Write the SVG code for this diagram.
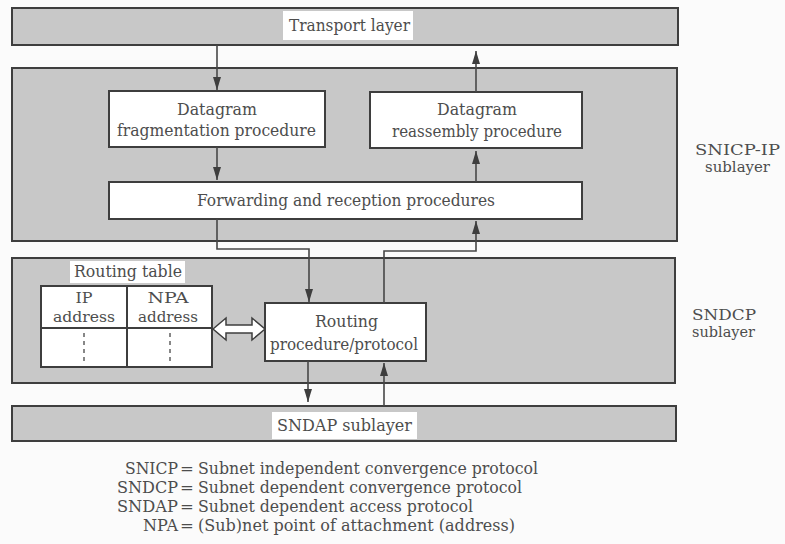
<svg xmlns="http://www.w3.org/2000/svg" width="785" height="544" viewBox="0 0 785 544">
  <style>
    .layer { fill: #c8c8c8; stroke: #3e3e3e; stroke-width: 2; }
    .box { fill: #ffffff; stroke: #3e3e3e; stroke-width: 2; }
    .lbl { fill: #ffffff; stroke: none; }
    text { font-family: 'DejaVu Serif', serif; font-size: 16px; fill: #4d4d4d; }
    .c { text-anchor: middle; }
    .e { text-anchor: end; }
    .sm { font-size: 14.5px; }
    .side { font-size: 15.5px; }
    .leg { font-size: 16.5px; }
    .wire { fill: none; stroke: #484848; stroke-width: 1.6; }
    .grid { fill: none; stroke: #3e3e3e; stroke-width: 2; }
    .dash { stroke: #555555; stroke-width: 1.4; stroke-dasharray: 4 4; }
  </style>
  <defs>
    <marker id="ah" viewBox="0 0 13 8" refX="13" refY="4" markerWidth="13" markerHeight="8" markerUnits="userSpaceOnUse" orient="auto">
      <path d="M0,0 L13,4 L0,8 z" fill="#3e3e3e"/>
    </marker>
  </defs>

  <rect x="0" y="0" width="785" height="544" fill="#fbfbfb"/>

  <!-- Transport layer band -->
  <g id="transport">
    <rect class="layer" x="12" y="8" width="666" height="37"/>
    <rect class="lbl" x="283" y="11" width="130" height="29"/>
    <text class="c" x="349.5" y="31" textLength="121" lengthAdjust="spacingAndGlyphs">Transport layer</text>
  </g>

  <!-- SNICP-IP sublayer -->
  <g id="snicp">
    <rect class="layer" x="12" y="68" width="665" height="173"/>
  </g>
  <g id="fragmentation">
    <rect class="box" x="109" y="91" width="216" height="56"/>
    <text class="c" x="217" y="115" textLength="80" lengthAdjust="spacingAndGlyphs">Datagram</text>
    <text class="c" x="216.5" y="136" textLength="199" lengthAdjust="spacingAndGlyphs">fragmentation procedure</text>
  </g>
  <g id="reassembly">
    <rect class="box" x="370" y="92" width="212" height="56"/>
    <text class="c" x="477" y="115" textLength="80" lengthAdjust="spacingAndGlyphs">Datagram</text>
    <text class="c" x="477" y="137" textLength="170" lengthAdjust="spacingAndGlyphs">reassembly procedure</text>
  </g>
  <g id="forwarding">
    <rect class="box" x="109" y="182" width="473" height="37"/>
    <text class="c" x="346" y="206" textLength="298" lengthAdjust="spacingAndGlyphs">Forwarding and reception procedures</text>
  </g>

  <!-- SNDCP sublayer -->
  <g id="sndcp">
    <rect class="layer" x="12" y="258" width="663" height="125"/>
  </g>
  <g id="routing-table">
    <rect class="lbl" x="70" y="261" width="115" height="22"/>
    <text x="74" y="277" textLength="108" lengthAdjust="spacingAndGlyphs">Routing table</text>
    <rect class="box" x="41" y="286" width="171" height="81"/>
    <line class="grid" x1="127" y1="286" x2="127" y2="367"/>
    <line class="grid" x1="41" y1="328" x2="212" y2="328"/>
    <text class="c sm" x="84" y="303" textLength="17" lengthAdjust="spacingAndGlyphs">IP</text>
    <text class="c sm" x="84" y="322" textLength="62" lengthAdjust="spacingAndGlyphs">address</text>
    <text class="c sm" x="168" y="303" textLength="41" lengthAdjust="spacingAndGlyphs">NPA</text>
    <text class="c sm" x="168" y="322" textLength="60" lengthAdjust="spacingAndGlyphs">address</text>
    <line class="dash" x1="84" y1="333" x2="84" y2="364"/>
    <line class="dash" x1="170" y1="333" x2="170" y2="364"/>
  </g>
  <g id="routing">
    <rect class="box" x="265" y="303" width="161" height="58"/>
    <text class="c" x="346.5" y="327" textLength="63" lengthAdjust="spacingAndGlyphs">Routing</text>
    <text class="c" x="344" y="350" textLength="148" lengthAdjust="spacingAndGlyphs">procedure/protocol</text>
  </g>

  <!-- SNDAP sublayer band -->
  <g id="sndap">
    <rect class="layer" x="12" y="406" width="664" height="35"/>
    <rect class="lbl" x="272" y="412" width="145" height="27"/>
    <text class="c" x="344.5" y="431" textLength="135" lengthAdjust="spacingAndGlyphs">SNDAP sublayer</text>
  </g>

  <!-- Side labels -->
  <g id="side-labels">
    <text class="c side" x="737.5" y="155" textLength="85" lengthAdjust="spacingAndGlyphs">SNICP-IP</text>
    <text class="c side" x="737.5" y="172" textLength="65" lengthAdjust="spacingAndGlyphs">sublayer</text>
    <text class="side" x="692" y="320" textLength="64" lengthAdjust="spacingAndGlyphs">SNDCP</text>
    <text class="side" x="692" y="337" textLength="63" lengthAdjust="spacingAndGlyphs">sublayer</text>
  </g>

  <!-- Connectors -->
  <g id="connectors">
    <line class="wire" x1="217" y1="45" x2="217" y2="90" marker-end="url(#ah)"/>
    <line class="wire" x1="217" y1="147" x2="217" y2="180" marker-end="url(#ah)"/>
    <line class="wire" x1="476" y1="92" x2="476" y2="51" marker-end="url(#ah)"/>
    <line class="wire" x1="476" y1="182" x2="476" y2="151" marker-end="url(#ah)"/>
    <polyline class="wire" points="217,219 217,249 309,249 309,302" marker-end="url(#ah)"/>
    <polyline class="wire" points="384,303 384,251 476,251 476,221" marker-end="url(#ah)"/>
    <line class="wire" x1="308" y1="361" x2="308" y2="402" marker-end="url(#ah)"/>
    <line class="wire" x1="384" y1="406" x2="384" y2="363" marker-end="url(#ah)"/>
    <polygon points="213,329 226,318 226,325 252,325 252,318 265,329 252,340 252,333 226,333 226,340" fill="#ffffff" stroke="#3e3e3e" stroke-width="1.5" stroke-linejoin="miter"/>
  </g>

  <!-- Legend -->
  <g id="legend" class="leg">
    <text class="e leg" x="178" y="474" textLength="53" lengthAdjust="spacingAndGlyphs">SNICP</text>
    <text class="leg" x="180" y="474">=</text>
    <text class="leg" x="198" y="474" textLength="340" lengthAdjust="spacingAndGlyphs">Subnet independent convergence protocol</text>
    <text class="e leg" x="178" y="493" textLength="61" lengthAdjust="spacingAndGlyphs">SNDCP</text>
    <text class="leg" x="180" y="493">=</text>
    <text class="leg" x="198" y="493" textLength="324" lengthAdjust="spacingAndGlyphs">Subnet dependent convergence protocol</text>
    <text class="e leg" x="178" y="512" textLength="61" lengthAdjust="spacingAndGlyphs">SNDAP</text>
    <text class="leg" x="180" y="512">=</text>
    <text class="leg" x="198" y="512" textLength="275" lengthAdjust="spacingAndGlyphs">Subnet dependent access protocol</text>
    <text class="e leg" x="178" y="531" textLength="35" lengthAdjust="spacingAndGlyphs">NPA</text>
    <text class="leg" x="180" y="531">=</text>
    <text class="leg" x="198" y="531" textLength="317" lengthAdjust="spacingAndGlyphs">(Sub)net point of attachment (address)</text>
  </g>
</svg>
